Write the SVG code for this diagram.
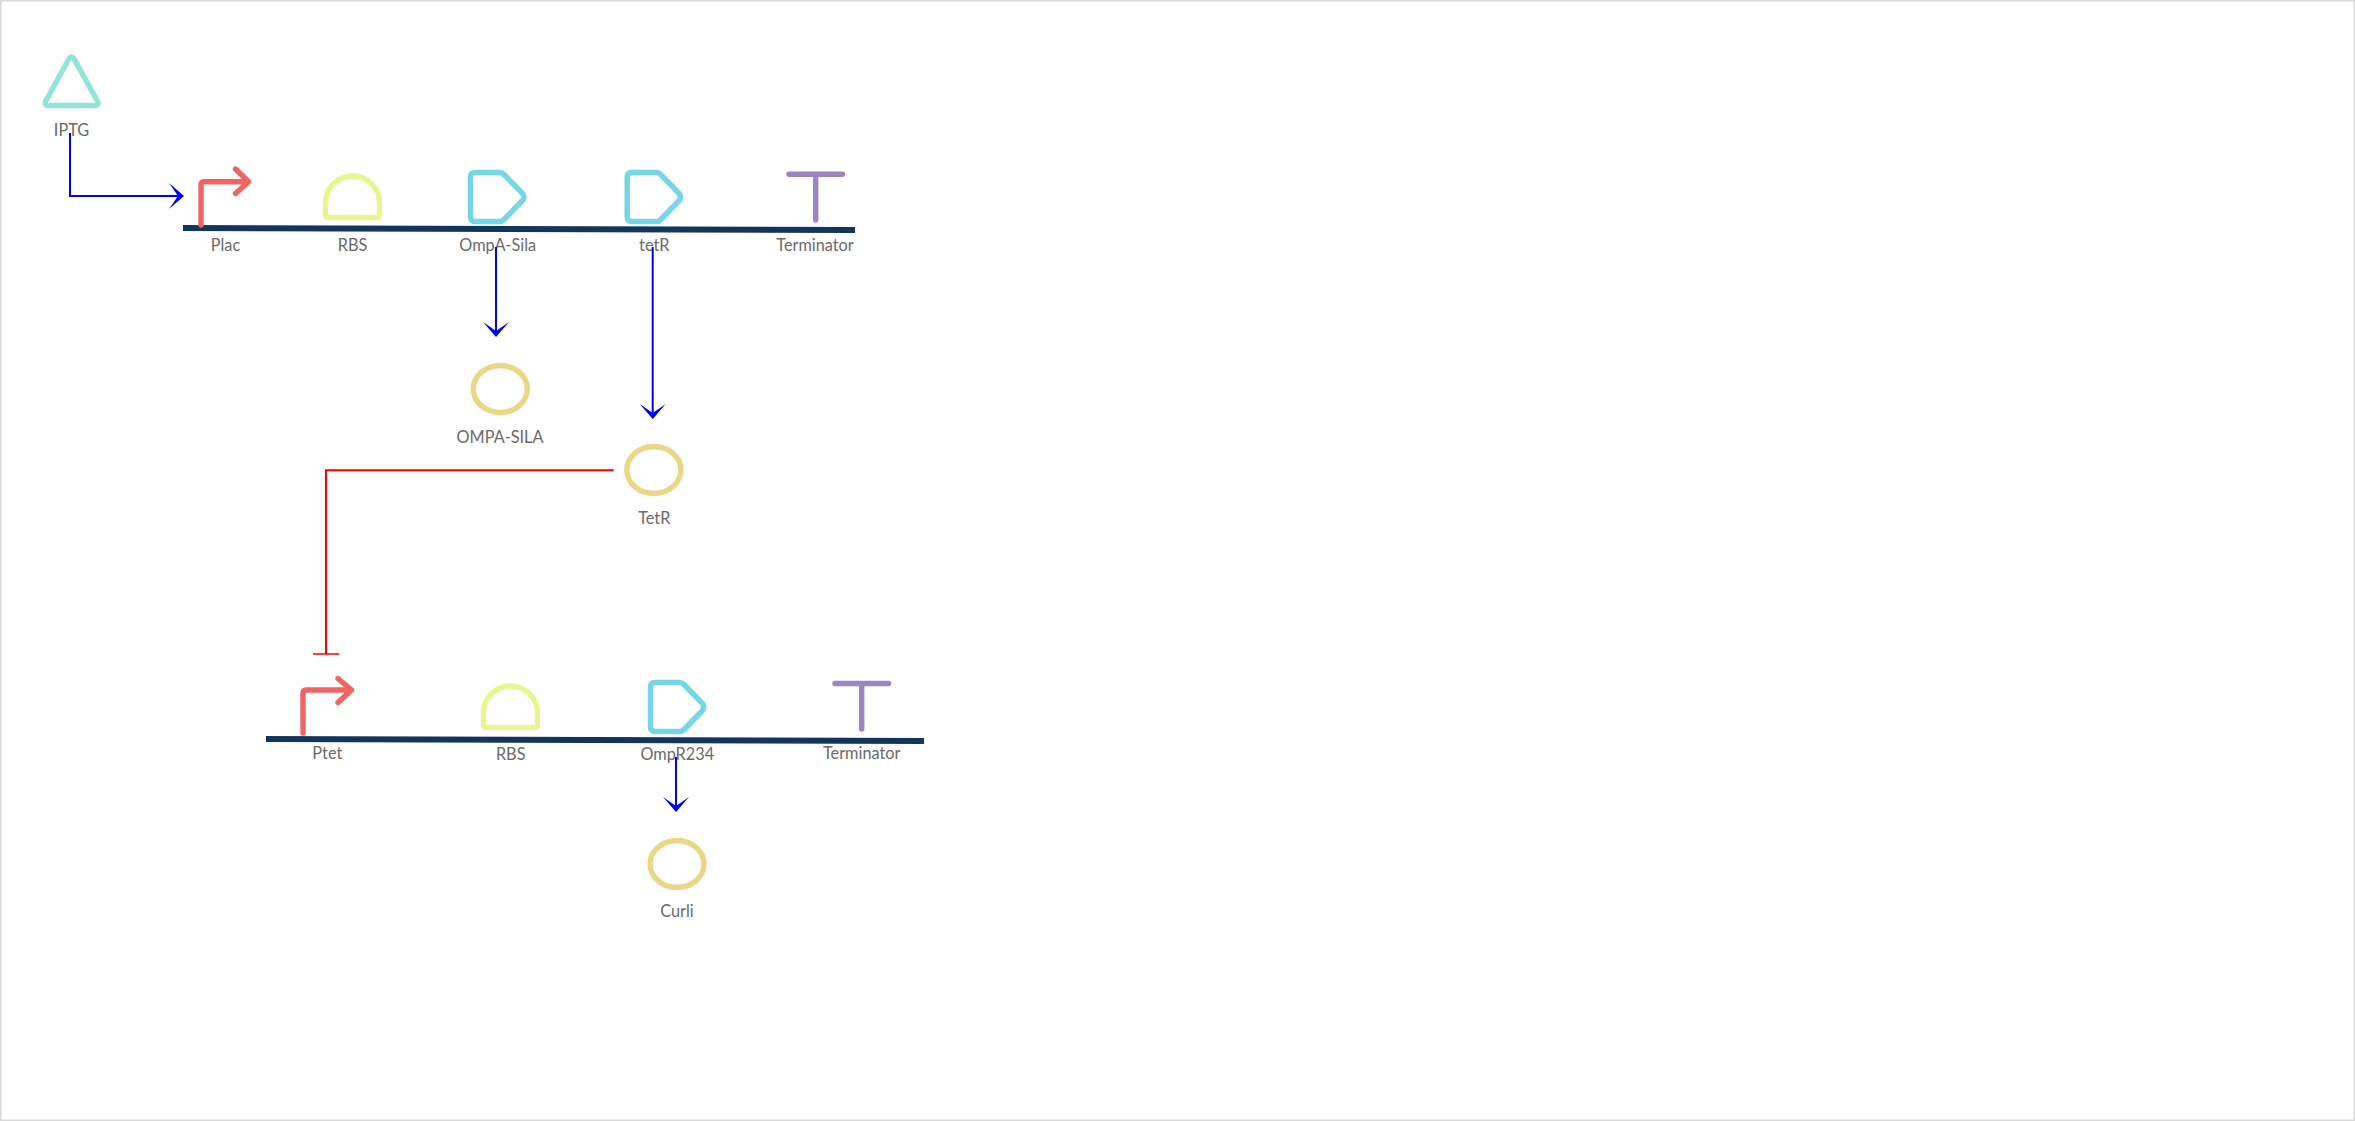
<svg xmlns="http://www.w3.org/2000/svg" width="2355" height="1121" viewBox="0 0 2355 1121">
  <defs>
    <style>
      text { font-family: Lato, "Open Sans", "Liberation Sans", sans-serif; font-size: 16.3px; fill: #6a6a6a; text-anchor: middle; }
      .s { fill: none; stroke-width: 5.4; stroke-linecap: round; stroke-linejoin: round; }
      .ind { stroke: #8ee5d8; }
      .pro { stroke: #f06464; }
      .rbs { stroke: #e9f690; }
      .cds { stroke: #74d6e6; }
      .ter { stroke: #9c85c5; }
      .prt { stroke: #ebd685; }
      .bb { fill: none; stroke: #12355b; stroke-width: 6; }
      .act { fill: none; stroke: #0000ff; stroke-width: 2; }
      .inh { fill: none; stroke: #ff0000; stroke-width: 2; }
    </style>
    <path id="cds-shape" d="M470.5 177 Q470.5 172.5 475 172.5 H500 Q502 172.5 504 174.5 L522.5 193.5 Q525 197 522.5 200.5 L504 219.5 Q502 221.5 500 221.5 H475 Q470.5 221.5 470.5 217 Z"/>
    <path id="rbs-shape" d="M325.5 214.5 V203 A27 27 0 0 1 379.5 203 V214.5 Q379.5 217.5 376.5 217.5 H328.5 Q325.5 217.5 325.5 214.5 Z"/>
    <marker id="open" markerUnits="userSpaceOnUse" markerWidth="20" markerHeight="30" refX="11" refY="13" orient="auto" overflow="visible">
      <path d="M0 0 L15 13 L0 26 L9 13 Z" fill="#0000ff" stroke="none"/>
    </marker>
    <marker id="tee" markerUnits="userSpaceOnUse" markerWidth="4" markerHeight="30" refX="1" refY="13" orient="auto" overflow="visible">
      <path d="M1 0 L1 26" fill="none" stroke="#ff0000" stroke-width="1.5"/>
    </marker>
  </defs>
  <rect id="frame" x="0.75" y="0.75" width="2353.5" height="1119.5" fill="#ffffff" stroke="#d9d9d9" stroke-width="1.5"/>

  <g id="backbone-1"><path class="bb" d="M183 228 L855 230"/></g>
  <g id="backbone-2"><path class="bb" d="M266 739 L924 741"/></g>

  <g id="IPTG">
    <path class="s ind" d="M68.3 60 Q71.5 54.5 74.7 60 L97 100.5 Q99.8 105.5 94 105.5 H49 Q43.2 105.5 46 100.5 Z"/>
    <text x="71.5" y="135.5">IPTG</text>
  </g>
  <g id="Plac">
    <path class="s pro" d="M201 225 V185 Q201 181.7 204 181.7 H248.5 M235.5 169 L248.5 181.7 L235.5 193.5"/>
    <text x="225.5" y="250.5">Plac</text>
  </g>
  <g id="RBS-1">
    <use href="#rbs-shape" class="s rbs"/>
    <text x="352.5" y="250.5">RBS</text>
  </g>
  <g id="OmpA-Sila">
    <use href="#cds-shape" class="s cds"/>
    <text x="497.7" y="250.5">OmpA-Sila</text>
  </g>
  <g id="tetR">
    <use href="#cds-shape" class="s cds" x="156.7"/>
    <text x="654.3" y="250.5">tetR</text>
  </g>
  <g id="Terminator-1">
    <path class="s ter" d="M789 174.3 H842.5 M815.7 174.3 V220"/>
    <text x="815" y="250.5">Terminator</text>
  </g>
  <g id="OMPA-SILA">
    <ellipse class="s prt" cx="500.3" cy="389" rx="27" ry="23.5"/>
    <text x="500" y="442.5">OMPA-SILA</text>
  </g>
  <g id="TetR">
    <ellipse class="s prt" cx="653.8" cy="470" rx="27" ry="23.5"/>
    <text x="654.3" y="523.5">TetR</text>
  </g>
  <g id="Ptet">
    <path class="s pro" d="M303 733 V693.5 Q303 690 306.5 690 H351.5 M338 678.5 L351.5 690 L338 702.5"/>
    <text x="327.3" y="759">Ptet</text>
  </g>
  <g id="RBS-2">
    <use href="#rbs-shape" class="s rbs" x="158" y="510"/>
    <text x="510.7" y="760">RBS</text>
  </g>
  <g id="OmpR234">
    <use href="#cds-shape" class="s cds" x="180" y="510"/>
    <text x="677.3" y="760">OmpR234</text>
  </g>
  <g id="Terminator-2">
    <path class="s ter" d="M835 683.5 H888.5 M861.7 683.5 V729"/>
    <text x="861.7" y="759">Terminator</text>
  </g>
  <g id="Curli">
    <ellipse class="s prt" cx="677" cy="864" rx="27" ry="23.5"/>
    <text x="677" y="917">Curli</text>
  </g>

  <g id="connectors">
    <path class="act" marker-end="url(#open)" d="M70 133 V196 H180"/>
    <path class="act" marker-end="url(#open)" d="M496 247 V333"/>
    <path class="act" marker-end="url(#open)" d="M652.7 247 V415"/>
    <path class="act" marker-end="url(#open)" d="M676 757 V808"/>
    <path class="inh" marker-end="url(#tee)" d="M613.7 470.3 H326 V654"/>
  </g>
</svg>
